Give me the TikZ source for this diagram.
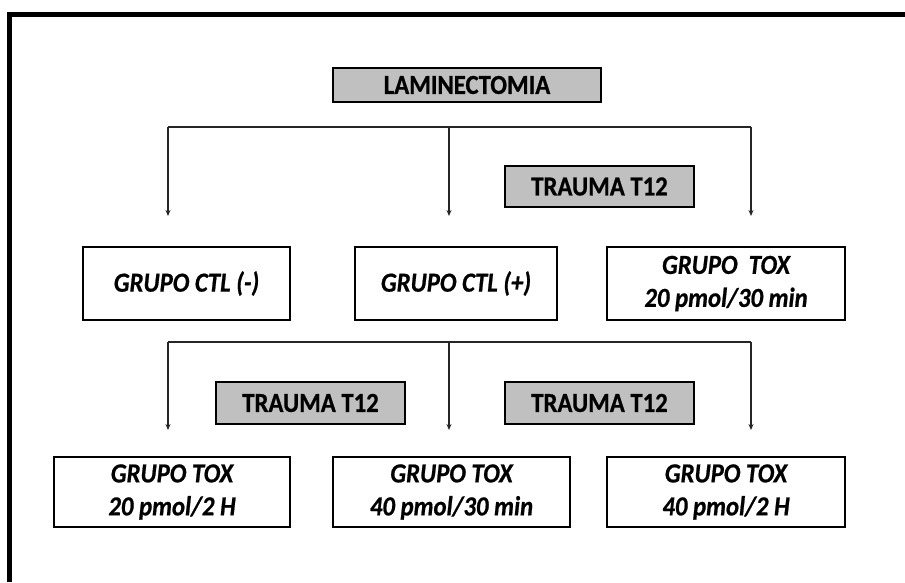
\documentclass[tikz,border=0pt]{standalone}
\usepackage{fontspec}
\setmainfont{Carlito}[FakeStretch=0.9, BoldFeatures={FakeBold=0.7}, BoldItalicFeatures={FakeBold=0.7}]
\usetikzlibrary{arrows.meta}
\definecolor{boxgray}{HTML}{C0C0C0}
\definecolor{linegray}{HTML}{262626}
\begin{document}
\begin{tikzpicture}[x=1pt,y=-1pt,
  graybox/.style={draw=black, line width=2.8pt, fill=boxgray, inner sep=0pt,
    font=\fontsize{27.5}{30}\selectfont\bfseries},
  whitebox/.style={draw=black, line width=2.8pt, fill=white, inner sep=0pt,
    align=center, font=\fontsize{27.5}{33}\selectfont\bfseries\itshape},
  conn/.style={draw=linegray, line width=1.1pt},
  arr/.style={conn, -{Stealth[length=6pt,width=5pt]}}
]
\useasboundingbox (0,0) rectangle (905,582);
% outer frame
\draw[line width=5pt] (9.5,582) -- (9.5,14.5) -- (905,14.5);

\node[graybox, minimum width=268, minimum height=34] (lam) at (467,85) {LAMINECTOMIA};
\node[graybox, minimum width=189, minimum height=41] (tr1) at (599.5,186.5) {TRAUMA T12};

\node[whitebox, minimum width=207, minimum height=73] (ctlm) at (186.5,283.5) {GRUPO CTL (-)};
\node[whitebox, minimum width=202, minimum height=73] (ctlp) at (456,283.5) {GRUPO CTL (+)};
\node[whitebox, minimum width=238, minimum height=73] (tox1) at (726,283.5) {GRUPO\ \ TOX\\20 pmol/30 min};

\node[graybox, minimum width=189, minimum height=42] (tr2) at (310.5,403) {TRAUMA T12};
\node[graybox, minimum width=189, minimum height=42] (tr3) at (599.5,403) {TRAUMA T12};

\node[whitebox, minimum width=236, minimum height=70] (b1) at (172,492) {GRUPO TOX\\20 pmol/2 H};
\node[whitebox, minimum width=237, minimum height=70] (b2) at (451.5,492) {GRUPO TOX\\40 pmol/30 min};
\node[whitebox, minimum width=238, minimum height=70] (b3) at (726,492) {GRUPO TOX\\40 pmol/2 H};

% first branching
\coordinate (h1l) at (168,127);
\coordinate (h1m) at (449,127);
\coordinate (h1r) at (751,127);
\coordinate (a1l) at (168,216);
\coordinate (a1m) at (449,216);
\coordinate (a1r) at (751,216);
\draw[conn] (h1l) -- (h1r);
\draw[arr] (h1l) -- (a1l);
\draw[arr] (h1m) -- (a1m);
\draw[arr] (h1r) -- (a1r);

% second branching
\coordinate (h2l) at (168,342);
\coordinate (h2m) at (449,342);
\coordinate (h2r) at (751,342);
\coordinate (a2l) at (168,430);
\coordinate (a2m) at (449,430);
\coordinate (a2r) at (751,430);
\draw[conn] (h2l) -- (h2r);
\draw[arr] (h2l) -- (a2l);
\draw[arr] (h2m) -- (a2m);
\draw[arr] (h2r) -- (a2r);
\end{tikzpicture}
\end{document}
